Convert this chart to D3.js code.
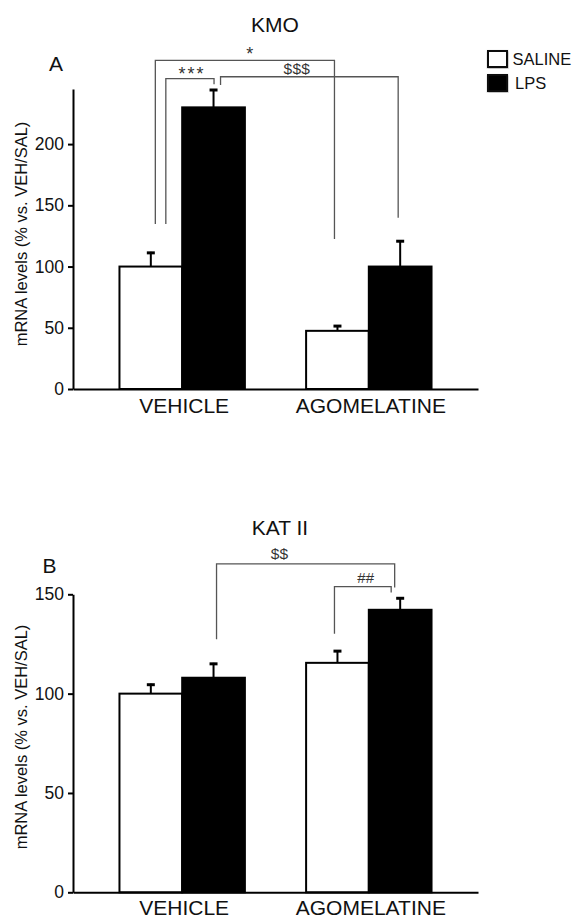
<!DOCTYPE html>
<html>
<head>
<meta charset="utf-8">
<script src="https://cdn.jsdelivr.net/npm/d3@7"></script>
<style>
	body { margin: 0; background: #fff; }
	svg { display: block; font-family: 'Liberation Sans', Arial, sans-serif; }
</style>
</head>
<body>
<script>
const groups = ['VEHICLE', 'AGOMELATINE'];
const series = ['SALINE', 'LPS'];

// KMO (panel A)
const kmoSaline = [100, 47.5];
const kmoSalineErr = [12, 4.7];
const kmoLps = [230, 100];
const kmoLpsErr = [15, 21.5];
const kmoTicks = [0, 50, 100, 150, 200];

// KAT II (panel B)
const katSaline = [100, 115.5];
const katSalineErr = [5, 6.4];
const katLps = [108, 142.2];
const katLpsErr = [7.5, 6.3];
const katTicks = [0, 50, 100, 150];

// significance brackets: ends are [group index, series index], heights in data units
const kmoMarks = [
	{ label: '*', from: [0, 0], to: [1, 0], top: 268.4, fromEnd: 134.7, toEnd: 122.5 },
	{ label: '***', from: [0, 0], to: [0, 1], top: 253.4, fromEnd: 134.7, toEnd: 248.8 },
	{ label: '$$$', from: [0, 1], to: [1, 1], top: 255, fromEnd: 248.3, toEnd: 139.9 }
];
const katMarks = [
	{ label: '$$', from: [0, 1], to: [1, 1], top: 165.3, fromEnd: 127.4, toEnd: 153.4 },
	{ label: '##', from: [1, 0], to: [1, 1], top: 153.9, fromEnd: 130.1, toEnd: 150.9 }
];

const w = 574;
const h = 920;

const svg = d3
	.select('body')
	.append('svg')
	.attr('width', w)
	.attr('height', h)
	.style('background-color', '#fff');

// little nudges so the bracket legs don't sit on top of each other
const legNudge = {
	'*': [4.5, -3],
	'***': [15, 0.5],
	'$$$': [7, -2],
	'$$': [3, -5.5],
	'##': [-3, -9]
};
const labelShift = { '*': 5, '***': 2, '$$$': -12.5, '$$': -26, '##': 3 };
const labelSize = { '*': 18, '***': 18, '$$$': 15.5, '$$': 15.5, '##': 15 };
const labelGap = { '*': 0.5, '***': -0.8, '$$$': 3, '$$': 5, '##': 4 };

function drawPanel(p) {
	const x = d3
		.scaleBand()
		.domain(groups)
		.range([73, 478])
		.paddingInner(0.328)
		.paddingOuter(0.249);
	const xs = d3.scaleBand().domain(series).range([0, x.bandwidth()]);
	const y = d3.scaleLinear().domain([0, p.yMax]).range([p.y0, p.y1]);

	const g = svg.append('g');

	const rows = [];
	groups.forEach((grp, i) =>
		series.forEach((s, j) =>
			rows.push({ grp, s, i, j, v: p.values[j][i], e: p.errors[j][i] })
		)
	);
	const cx = (i, j) => x(groups[i]) + xs(series[j]) + xs.bandwidth() / 2;

	// error bars (drawn first so the bar edge covers the foot)
	const err = g.selectAll('.err').data(rows).enter().append('g').attr('class', 'err');
	err
		.append('line')
		.attr('x1', d => cx(d.i, d.j))
		.attr('x2', d => cx(d.i, d.j))
		.attr('y1', d => y(d.v))
		.attr('y2', d => y(d.v + d.e))
		.attr('stroke', '#000')
		.attr('stroke-width', 2);
	err
		.append('line')
		.attr('x1', d => cx(d.i, d.j) - 4)
		.attr('x2', d => cx(d.i, d.j) + 4)
		.attr('y1', d => y(d.v + d.e) + 1)
		.attr('y2', d => y(d.v + d.e) + 1)
		.attr('stroke', '#000')
		.attr('stroke-width', 3);

	g.selectAll('.bar')
		.data(rows)
		.enter()
		.append('rect')
		.attr('class', 'bar')
		.attr('x', d => x(d.grp) + xs(d.s))
		.attr('y', d => y(d.v))
		.attr('width', xs.bandwidth())
		.attr('height', d => y(0) - y(d.v))
		.attr('fill', d => (d.j === 0 ? '#fff' : '#000'))
		.attr('stroke', '#000')
		.attr('stroke-width', 2);

	// y axis
	const ya = g
		.append('g')
		.attr('transform', 'translate(73,0)')
		.call(d3.axisLeft(y).tickValues(p.ticks).tickSize(5).tickPadding(4).tickSizeOuter(0));
	ya.select('.domain').attr('stroke-width', 2);
	ya.selectAll('.tick line').attr('stroke-width', 2);
	ya.selectAll('.tick text')
		.attr('font-size', 17.5)
		.attr('font-family', "'Liberation Sans', Arial, sans-serif")
		.attr('fill', '#111');

	// x axis
	const xa = g
		.append('g')
		.attr('transform', `translate(0,${y(0)})`)
		.call(d3.axisBottom(x).tickSize(0).tickPadding(p.xPad).tickSizeOuter(0));
	xa.select('.domain').attr('stroke-width', 2);
	xa.selectAll('.tick text')
		.attr('font-size', 21)
		.attr('font-family', "'Liberation Sans', Arial, sans-serif")
		.attr('fill', '#111')
		.attr('dx', 2);

	// axis title
	g.append('text')
		.attr('transform', `translate(27,${p.yLabelMid}) rotate(-90)`)
		.attr('text-anchor', 'middle')
		.attr('font-size', 16.5)
		.attr('fill', '#111')
		.text('mRNA levels (% vs. VEH/SAL)');

	g.append('text')
		.attr('x', p.titleX)
		.attr('y', p.titleY)
		.attr('text-anchor', 'middle')
		.attr('font-size', 21)
		.attr('fill', '#111')
		.text(p.title);

	g.append('text')
		.attr('x', p.letterX)
		.attr('y', p.letterY)
		.attr('font-size', 21)
		.attr('fill', '#111')
		.text(p.letter);

	// brackets
	p.marks.forEach(m => {
		const n = legNudge[m.label];
		const x1 = cx(m.from[0], m.from[1]) + n[0];
		const x2 = cx(m.to[0], m.to[1]) + n[1];
		g.append('path')
			.attr(
				'd',
				`M${x1},${y(m.fromEnd)}V${y(m.top)}H${x2}V${y(m.toEnd)}`
			)
			.attr('fill', 'none')
			.attr('stroke', '#555')
			.attr('stroke-width', 1.3);
		g.append('text')
			.attr('x', (x1 + x2) / 2 + labelShift[m.label])
			.attr('y', y(m.top) - labelGap[m.label])
			.attr('text-anchor', 'middle')
			.attr('font-size', labelSize[m.label])
			.attr('letter-spacing', m.label === '***' ? 2 : 0.3)
			.attr('fill', '#333')
			.text(m.label);
	});
}

drawPanel({
	title: 'KMO',
	letter: 'A',
	values: [kmoSaline, kmoLps],
	errors: [kmoSalineErr, kmoLpsErr],
	ticks: kmoTicks,
	marks: kmoMarks,
	yMax: 245,
	y0: 389,
	y1: 89,
	xPad: 9,
	yLabelMid: 234,
	titleX: 275,
	titleY: 32,
	letterX: 49,
	letterY: 71
});

drawPanel({
	title: 'KAT II',
	letter: 'B',
	values: [katSaline, katLps],
	errors: [katSalineErr, katLpsErr],
	ticks: katTicks,
	marks: katMarks,
	yMax: 150,
	y0: 892.3,
	y1: 594.3,
	xPad: 7.5,
	yLabelMid: 737,
	titleX: 280,
	titleY: 535,
	letterX: 42.5,
	letterY: 572.5
});

// legend
const defs = svg.append('defs');
defs
	.append('filter')
	.attr('id', 'soft')
	.append('feDropShadow')
	.attr('dx', 0.5)
	.attr('dy', 1)
	.attr('stdDeviation', 1)
	.attr('flood-opacity', 0.35);

const legend = svg.append('g').attr('id', 'legend');
legend
	.selectAll('rect')
	.data(series)
	.enter()
	.append('rect')
	.attr('x', 488)
	.attr('y', (d, i) => 51 + i * 24)
	.attr('width', 19)
	.attr('height', 16)
	.attr('fill', (d, i) => (i === 0 ? '#fff' : '#000'))
	.attr('stroke', '#111')
	.attr('stroke-width', 2)
	.attr('filter', 'url(#soft)');
legend
	.selectAll('text')
	.data(series)
	.enter()
	.append('text')
	.attr('x', (d, i) => (i === 0 ? 512.5 : 515))
	.attr('y', (d, i) => 64.5 + i * 24)
	.attr('font-size', 16.5)
	.attr('fill', '#111')
	.text(d => d);
</script>
</body>
</html>
